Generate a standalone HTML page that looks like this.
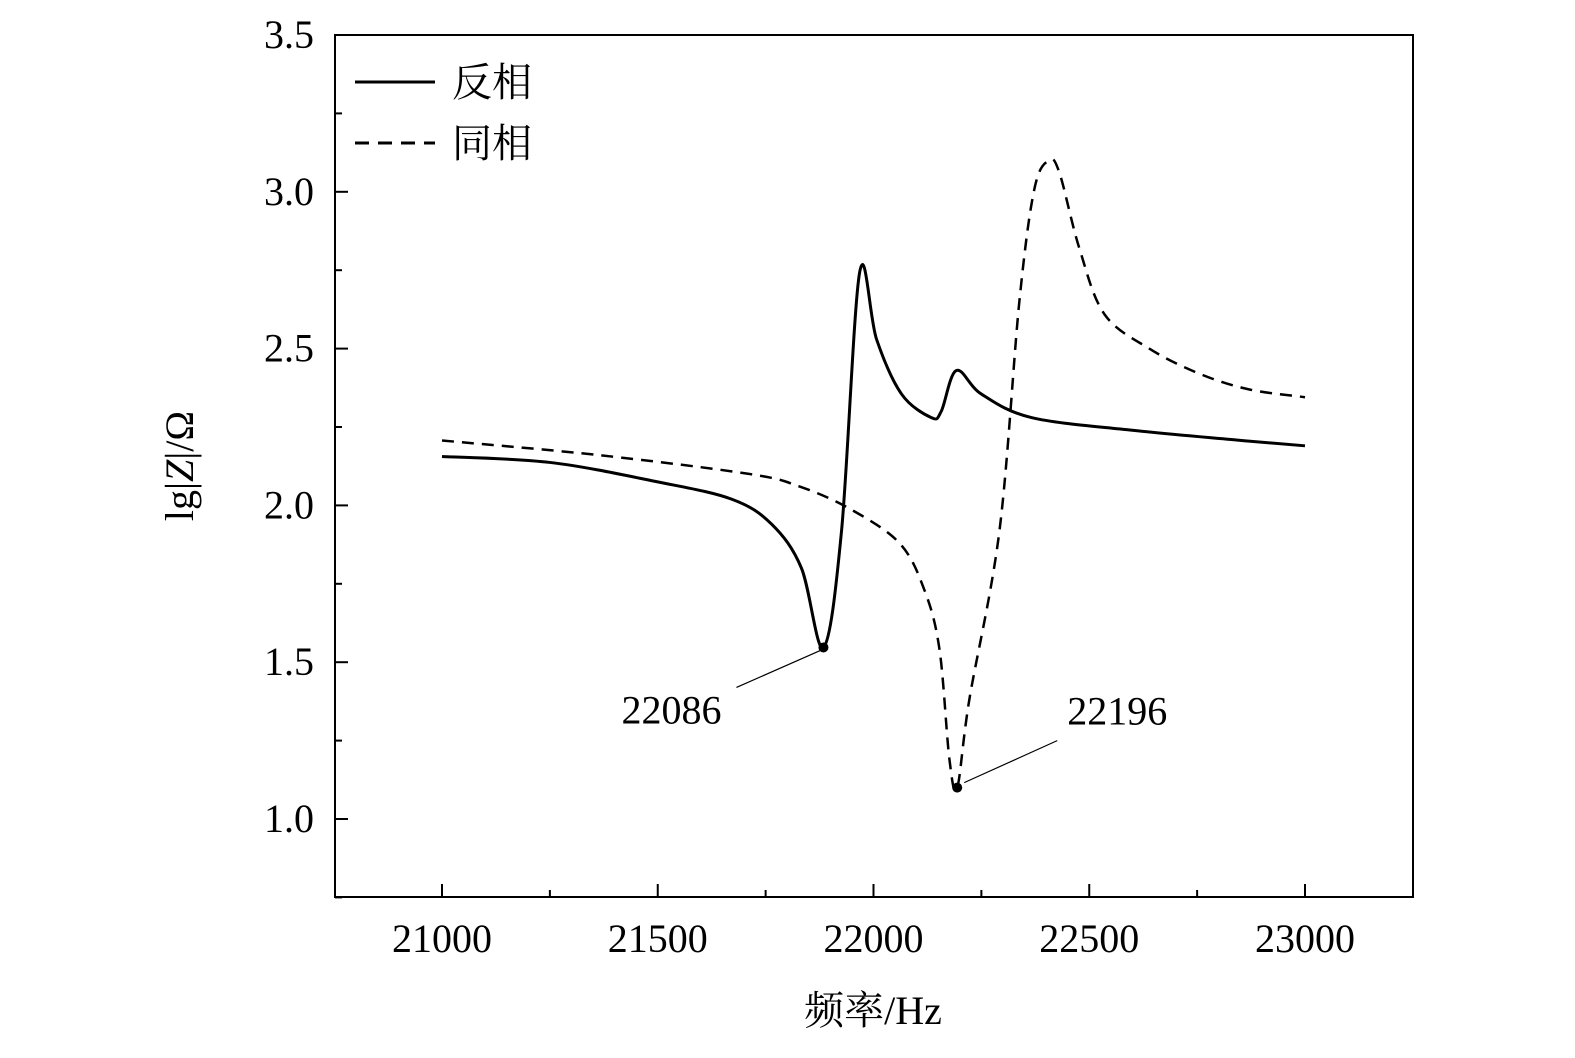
<!DOCTYPE html>
<html><head><meta charset="utf-8">
<style>
body{margin:0;background:#fff}
svg text{font-family:"Liberation Serif","Noto Serif CJK SC",serif;fill:#000}
</style></head><body>
<svg id="chart" width="1575" height="1053" xmlns="http://www.w3.org/2000/svg">
<rect x="335" y="35" width="1078" height="862" fill="none" stroke="#000" stroke-width="2"/>
<g id="ticks"></g>
<g id="series"></g>
<g>
<line x1="355" y1="82" x2="435" y2="82" stroke="#000" stroke-width="3"/>
<text x="452" y="96" font-size="40">反相</text>
<line x1="355" y1="143" x2="435" y2="143" stroke="#000" stroke-width="3" stroke-dasharray="14,9"/>
<text x="452" y="157" font-size="40">同相</text>
</g>
<text transform="translate(193,466) rotate(-90)" text-anchor="middle" font-size="40">lg|<tspan font-style="italic">Z</tspan>|/Ω</text>
<text x="873" y="1024" text-anchor="middle" font-size="40">频率/Hz</text>
</svg>
<script>
const xTicks=[21000,21500,22000,22500,23000];
const yTicks=[1.0,1.5,2.0,2.5,3.0,3.5];
const antiX=[21000,21250,21500,21671,21764,21833,21884,21926,21968,22007,22065,22134,22157,22192,22250,22366,22597,22829,23000];
const antiY=[2.156,2.137,2.075,2.02,1.94,1.80,1.547,1.92,2.744,2.53,2.355,2.28,2.30,2.43,2.355,2.28,2.24,2.21,2.19];
const inX=[21000,21366,21713,21829,21944,22060,22118,22153,22176,22194,22222,22292,22338,22373,22407,22431,22477,22535,22639,22755,22870,23000];
const inY=[2.207,2.16,2.10,2.06,1.99,1.88,1.73,1.54,1.19,1.10,1.38,1.92,2.65,3.01,3.10,3.06,2.82,2.61,2.50,2.42,2.37,2.345];
const marks=[{x:21884,y:1.547,label:"22086"},{x:22194,y:1.10,label:"22196"}];
const NS="http://www.w3.org/2000/svg";
const sx=v=>442+(v-21000)*(1305-442)/2000;
const sy=v=>819-(v-1.0)*(819-35)/2.5;
function el(t,a,p){const e=document.createElementNS(NS,t);for(const k in a)e.setAttribute(k,a[k]);p.appendChild(e);return e;}
const tg=document.getElementById('ticks'),sg=document.getElementById('series');
for(let v=21000;v<=23000;v+=250){const l=el('line',{x1:sx(v),x2:sx(v),y1:897,y2:v%500==0?884:890,stroke:'#000','stroke-width':2},tg);
}
for(let v=0.75;v<=3.5;v+=0.25){const l=el('line',{y1:sy(v),y2:sy(v),x1:335,x2:Math.abs(v*2-Math.round(v*2))<1e-6?348:342,stroke:'#000','stroke-width':2},tg);
}
xTicks.forEach(v=>{const t=el('text',{x:sx(v),y:952,'text-anchor':'middle','font-size':40},tg);t.textContent=v;
});
yTicks.forEach(v=>{const t=el('text',{x:314,y:sy(v)+13,'text-anchor':'end','font-size':40},tg);t.textContent=v.toFixed(1);
});
function path(xs,ys){const p=xs.map((x,i)=>[sx(x),sy(ys[i])]);let d='M'+p[0][0]+','+p[0][1];
for(let i=0;i<p.length-1;i++){const a=p[Math.max(0,i-1)],b=p[i],c=p[i+1],e=p[Math.min(p.length-1,i+2)];
const c1=[b[0]+(c[0]-a[0])/6,b[1]+(c[1]-a[1])/6],c2=[c[0]-(e[0]-b[0])/6,c[1]-(e[1]-b[1])/6];
d+=' C'+c1+' '+c2+' '+c;}return d;}
const s1=el('path',{d:path(antiX,antiY),fill:'none',stroke:'#000','stroke-width':3},sg);

const s2=el('path',{d:path(inX,inY),fill:'none',stroke:'#000','stroke-width':2.5,'stroke-dasharray':'12,8'},sg);

const offs=[[-87,40,-152,62],[100,-47,160,-77]];
marks.forEach((m,i)=>{const x=sx(m.x),y=sy(m.y),o=offs[i];
const c=el('circle',{cx:x,cy:y,r:5,fill:'#000'},sg);
const l=el('line',{x1:x+(i?7:-3),y1:y+(i?-5:3),x2:x+o[0],y2:y+o[1],stroke:'#000','stroke-width':1.2},sg);

const t=el('text',{x:x+o[2],y:y+o[3]+14,'text-anchor':'middle','font-size':40},sg);t.textContent=m.label;
});
</script>
</body></html>
